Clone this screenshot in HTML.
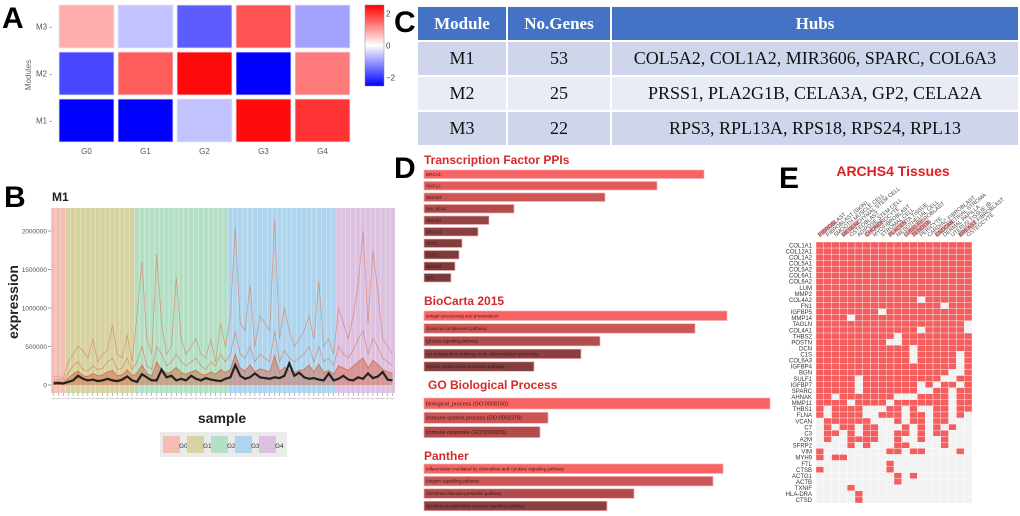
<!DOCTYPE html>
<html><head><meta charset="utf-8">
<style>
html,body{margin:0;padding:0;background:#fff;width:1020px;height:516px;overflow:hidden}
svg{display:block;font-family:"Liberation Sans",sans-serif}
.tbl{position:absolute;left:416px;top:5px;border-collapse:collapse;font-family:"Liberation Serif",serif;}
.tbl td,.tbl th{border:2px solid #fff;text-align:center;padding:0;height:33px}
.tbl th{background:#4472c4;color:#fff;font-size:17px;font-weight:bold}
.tbl td{font-size:18px;color:#111}
</style></head><body>
<svg id="fig" width="1020" height="516" viewBox="0 0 1020 516" xmlns="http://www.w3.org/2000/svg">
<g id="pA"></g>
<g id="pB"></g>
<g id="pD"></g>
<g id="pE"></g>
</svg>
<table class="tbl">
<tr><th style="width:88px">Module</th><th style="width:102px">No.Genes</th><th style="width:406px">Hubs</th></tr>
<tr style="background:#cfd5ea"><td>M1</td><td>53</td><td>COL5A2, COL1A2, MIR3606, SPARC, COL6A3</td></tr>
<tr style="background:#e9ebf5"><td>M2</td><td>25</td><td>PRSS1, PLA2G1B, CELA3A, GP2, CELA2A</td></tr>
<tr style="background:#cfd5ea"><td>M3</td><td>22</td><td>RPS3, RPL13A, RPS18, RPS24, RPL13</td></tr>
</table>
<script>
// ---------- Panel A data ----------
const groupsA = ["G0","G1","G2","G3","G4"];
const modulesA = ["M3","M2","M1"];
const valM3 = [0.8,-0.6,-1.6,1.7,-0.9];
const valM2 = [-1.8,1.6,2.4,-2.5,1.3];
const valM1 = [-2.5,-2.5,-0.6,2.4,2.0];
const cbTicks = [2,0,-2];
// ---------- Panel B data (thousands) ----------
const groupSizes = [3,14,19,22,12];
const groupNames = ["G0","G1","G2","G3","G4"];
const yTicksB = [0,500000,1000000,1500000,2000000];
const meanLine = [20,25,20, 40,60,120,80,60,70,50,60,80,60,50,70,110,60, 40,140,100,60,60,200,100,120,60,80,60,120,80,60,90,70,60,50,80, 100,260,120,80,100,150,100,90,80,100,90,120,280,120,160,100,80,90,70,60,150,60, 80,120,70,60,100,80,150,90,110,170,70,60];
const highLine = [100,120,80, 300,400,500,450,350,600,300,400,450,780,400,350,650,300, 900,1600,600,400,1700,800,400,500,1400,600,400,500,600,400,350,600,300,800,500, 900,2050,800,700,1300,500,900,800,700,2150,600,1000,700,500,600,700,900,600,1350,500,600,400, 1000,800,600,900,1300,2000,800,1750,1200,600,500,400];
const midLine = [60,80,50, 150,250,300,200,180,250,200,220,300,350,200,220,350,200, 300,500,250,200,500,400,250,300,400,300,250,300,350,250,200,300,250,400,300, 400,700,400,350,500,300,400,350,300,700,300,450,350,300,350,400,500,300,500,300,350,250, 500,400,350,450,600,700,400,600,500,350,300,250];
const lowLine = [40,50,30, 90,140,180,120,110,150,120,130,170,190,120,130,200,120, 150,260,150,120,300,200,150,170,230,160,140,170,190,140,130,170,140,200,160, 200,400,220,180,260,170,210,190,170,380,170,230,190,160,190,200,260,170,270,160,190,140, 250,220,190,240,300,350,220,320,270,200,170,150];
// ---------- Panel D data ----------
const tfNames = ["BRCA1","HNF1A","SMAD3","BHLHE40","SMAD2","XRCC4","ATF2","ESR1","SMAD4","SP1"];
const tfVals = [280,233,181,90,65,54,38,35,31,27];
const bcNames = ["antigen processing and presentation","classical complement pathway","tgf beta signaling pathway","ras-independent pathway in nk cell-mediated cytotoxicity","intrinsic prothrombin activation pathway"];
const bcVals = [303,271,176,157,110];
const goNames = ["biological_process (GO:0008150)","immune system process (GO:0002376)","immune response (GO:0006955)"];
const goVals = [346,124,116];
const ptNames = ["Inflammation mediated by chemokine and cytokine signaling pathway","Integrin signalling pathway","Alzheimer disease-presenilin pathway","Nicotinic acetylcholine receptor signaling pathway"];
const ptVals = [299,289,210,183];
// ---------- Panel E data ----------
const genesE = ["COL1A1","COL12A1","COL1A2","COL5A1","COL5A2","COL6A1","COL6A2","LUM","MMP2","COL4A2","FN1","IGFBP5","MMP14","TAGLN","COL4A1","THBS2","POSTN","DCN","C1S","COL6A3","IGFBP4","BGN","SULF1","IGFBP7","SPARC","AHNAK","MMP11","THBS1","FLNA","VCAN","C7","C3","A2M","SFRP2","VIM","MYH9","FTL","CTSB","ACTG1","ACTB","TXNIF","HLA-DRA","CTSD"];
const tissuesE = ["FIBROBLAST","FIBROBLAST (SKIN)","SMOOTH MUSCLE CELL","MESENCHYMAL STEM CELL","OSTEOBLAST","ADIPOSE STEM CELL","CHONDROCYTE","MYOFIBROBLAST","STROMAL CELL","PLACENTA TISSUE","MESOTHELIAL CELL","LUNG FIBROBLAST","TENDON","PERICYTE","CARDIAC FIBROBLAST","ENDOMETRIAL STROMA","DERMAL PAPILLA","UTERUS TISSUE (B..","BREAST FIBROBLAST","OSTEOCYTE"];
const gridE = ["11111111111111111111","11111111111111111111","11111111111111111111","11111111111111111111","11111111111111111111","11111111111111111111","11111111111111111111","11111111111111111111","11111111111111111111",
"11111111111110111111","11111111111111110111","11111111011111111111","11110111111111111111","11111111111111111110","11111111111110111110","11111111110111111111","11111111100111111111","11111111111101111111","11111111111101111101","11111111111101111101","11111111111111111101","11111111111111111001","11111011111111110011","11111011111110101101","11111011111110011011","11011111110001111011","11110111101111111011","10111100011010011011","10111100111011011010","01111110001011011000","01011011000101010100","01101011001101011000","01001111001001001000","00001010001100001000","10000000011011000010","10110000000000000000","00000000010000000000","10000000010000000000","00000000001010000000","00000000001000000000","00001000000000000000","00000100000000000000","00000100000000000000"];

const NS="http://www.w3.org/2000/svg";
function mk(parent,tag,attrs,text){const e=document.createElementNS(NS,tag);for(const k in attrs)e.setAttribute(k,attrs[k]);if(text!==undefined)e.textContent=text;parent.appendChild(e);return e;}
function letter(p,ch,x,y){const t=mk(p,'text',{x:x,y:y,'font-size':30,'font-weight':'bold',fill:'#000'},ch);

}

// ---------- Panel A ----------
(function(){
const g=document.getElementById('pA');
letter(g,'A',2,28);
const x0=59,cw=59.0,y0=5,ch=47;
const rowsVals=[valM3,valM2,valM1];
function col(v){const t=Math.max(-1,Math.min(1,v/2.5));if(t>=0){const c=Math.round(255*(1-t));return `rgb(255,${c},${c})`;}const c=Math.round(255*(1+t));return `rgb(${c},${c},255)`;}
const xs=i=>x0+i*cw, ys=j=>y0+j*ch;
mk(g,'rect',{x:57,y:3,width:295,height:141,fill:'#fff'});
modulesA.forEach((m,j)=>{
 rowsVals[j].forEach((v,i)=>{const r=mk(g,'rect',{x:xs(i),y:ys(j),width:cw-4,height:ch-4,fill:col(v),stroke:'#e8e8f4','stroke-width':0.8});
 
 });
 const t=mk(g,'text',{x:52,y:ys(j)+(ch-4)/2+3,'font-size':8,fill:'#555','text-anchor':'end'},m+' -');
 
 
});
groupsA.forEach((gname,i)=>{const t=mk(g,'text',{x:xs(i)+(cw-4)/2,y:154,'font-size':8,fill:'#555','text-anchor':'middle'},gname);
 
 });
const yt=mk(g,'text',{x:0,y:0,'font-size':8,fill:'#666','text-anchor':'middle',transform:'translate(31,75) rotate(-90)'},'Modules');


const defs=mk(g,'defs',{});const lg=mk(defs,'linearGradient',{id:'cbg',x1:0,y1:0,x2:0,y2:1});
mk(lg,'stop',{offset:'0',  'stop-color':'#ff0000'});mk(lg,'stop',{offset:'0.5','stop-color':'#ffffff'});mk(lg,'stop',{offset:'1','stop-color':'#0000ff'});
const cb=mk(g,'rect',{x:365,y:5,width:19,height:81,fill:'url(#cbg)',stroke:'#888','stroke-width':0.5});


const cy=v=>45.5-v*16;
cbTicks.forEach(v=>{const t=mk(g,'text',{x:386,y:cy(v)+3,'font-size':8,fill:'#444'},(v<0?'\u2212':'')+Math.abs(v));
 
 });
})();

// ---------- Panel B ----------
(function(){
const g=document.getElementById('pB');
letter(g,'B',4,207);
const tt=mk(g,'text',{x:52,y:201,'font-size':12,'font-weight':'bold',fill:'#222'},'M1');


const L=51,R=395,T=208,Bt=393;
const n=meanLine.length;const sw=(R-L)/n;
const xs=i=>L+(i+0.5)*sw;
const ys=v=>385-v*1000/500000*38.5;
const bandCols=['#f5beb5','#d6d2a2','#b5dfc5','#afd5ee','#dcc1e0'];
let s=0;
groupSizes.forEach((sz,k)=>{const r=mk(g,'rect',{x:L+s*sw,y:T,width:sz*sw,height:Bt-T,fill:bandCols[k]});
 
 
 s+=sz;});
for(let i=0;i<n;i++){mk(g,'line',{x1:L+i*sw,x2:L+i*sw,y1:T,y2:Bt,stroke:'#fff','stroke-width':0.4,opacity:0.7});}
yTicksB.forEach(v=>{mk(g,'line',{x1:48,x2:51,y1:ys(v/1000),y2:ys(v/1000),stroke:'#555','stroke-width':0.6});
 const t=mk(g,'text',{x:47,y:ys(v/1000)+2.5,'font-size':6.5,fill:'#555','text-anchor':'end'},String(v));
 
 });
function pathOf(arr){return arr.map((v,i)=>(i?'L':'M')+xs(i).toFixed(1)+' '+ys(v).toFixed(1)).join(' ');}
const area=mk(g,'path',{d:pathOf(lowLine)+` L${xs(n-1)} ${ys(0)} L${xs(0)} ${ys(0)} Z`,fill:'#d2603c',opacity:0.45});


[[highLine,0.55,0.8],[midLine,0.6,0.8],[lowLine,0.8,1]].forEach((a,k)=>{const p=mk(g,'path',{d:pathOf(a[0]),fill:'none',stroke:'#d9693f','stroke-width':a[2],opacity:a[1]});
 
 });
const ml=mk(g,'path',{d:pathOf(meanLine),fill:'none',stroke:'#222','stroke-width':2.2});


for(let i=0;i<n;i++){mk(g,'line',{x1:xs(i),x2:xs(i),y1:Bt,y2:Bt+3,stroke:'#777','stroke-width':0.5});
 mk(g,'line',{x1:xs(i)-2,x2:xs(i)+2,y1:Bt+6,y2:Bt+5,stroke:'#999','stroke-width':0.6});}
const yl=mk(g,'text',{x:0,y:0,'font-size':14,'font-weight':'bold',fill:'#222','text-anchor':'middle',transform:'translate(18,302) rotate(-90)'},'expression');


const xl=mk(g,'text',{x:222,y:423,'font-size':14,'font-weight':'bold',fill:'#222','text-anchor':'middle'},'sample');


const lb=mk(g,'rect',{x:160,y:432,width:127,height:25,fill:'#ebebeb'});


groupNames.forEach((nm,k)=>{const x=163+k*24;
 const sq=mk(g,'rect',{x:x,y:436,width:17,height:17,fill:bandCols[k]});
 
 
 const t=mk(g,'text',{x:x+16,y:448,'font-size':6.5,fill:'#333'},nm);
 
 });
})();

// ---------- Panel C letter ----------
letter(document.getElementById('pD'),'C',394,32);

// ---------- Panel D ----------
(function(){
const g=document.getElementById('pD');
letter(g,'D',394,178);
const x0=424;const scale=v=>v;
const shades=['#f86464','#e35a5a','#cc5555','#b04c4c','#964444','#8a4040','#823d3d','#7c3b3b','#7a3a3a','#783a3a'];
function section(title,tx,ty,names,vals,y0,step,h,fs,key){
 const t=mk(g,'text',{x:tx,y:ty,'font-size':12,'font-weight':'bold',fill:'#d42a2a'},title);
 
 
 names.forEach((nm,i)=>{const y=y0+i*step;
  const si=Math.min(shades.length-1,Math.round(i*(vals.length>5?1:1.6)));
  const r=mk(g,'rect',{x:x0,y:y,width:scale(vals[i]),height:h,fill:shades[si],stroke:'#f4b0b0','stroke-width':0.7});
  
  
  const l=mk(g,'text',{x:x0+2,y:y+h/2+fs*0.35,'font-size':fs,fill:'#3a1a1a'},nm);
  
  });
}
section('Transcription Factor PPIs',424,164,tfNames,tfVals,170,11.5,8.5,4.5,'tf');
section('BioCarta 2015',424,305,bcNames,bcVals,311,12.7,9.5,4.5,'biocarta');
section('GO Biological Process',428,389,goNames,goVals,398,14.3,11,5.5,'go');
section('Panther',424,460,ptNames,ptVals,464,12.4,9.5,4.5,'panther');
})();

// ---------- Panel E ----------
(function(){
const g=document.getElementById('pE');
letter(g,'E',779,188);
const tt=mk(g,'text',{x:893,y:176,'font-size':14,'font-weight':'bold',fill:'#e02020','text-anchor':'middle'},'ARCHS4 Tissues');


const x0=816,cw=7.8,y0=242,rh=6.07;
mk(g,'rect',{x:x0,y:y0,width:cw*20,height:rh*genesE.length,fill:'#f2f2f2'});
genesE.forEach((gn,j)=>{
 const row=gridE[j];
 for(let i=0;i<20;i++){
  const c=mk(g,'rect',{x:x0+i*cw,y:y0+j*rh,width:cw,height:rh,fill:row[i]==='1'?'#f45e5e':'#f2f2f2',stroke:'#fff','stroke-width':0.35});
  
  
 }
 const t=mk(g,'text',{x:812,y:y0+j*rh+rh-0.8,'font-size':6,fill:'#333','text-anchor':'end'},gn);
 
 
});
tissuesE.forEach((tn,i)=>{const x=x0+i*cw+4,y=y0-5;
 if(i%3===0||i===11){const hl=mk(g,'rect',{x:0,y:-4.5,width:22,height:5,fill:'#f8a8a8',transform:`translate(${x},${y}) rotate(-40)`});
  
  }
 const t=mk(g,'text',{x:0,y:0,'font-size':5.5,fill:'#444',transform:`translate(${x},${y}) rotate(-40)`},tn);
 
 });
})();
</script>
</body></html>
